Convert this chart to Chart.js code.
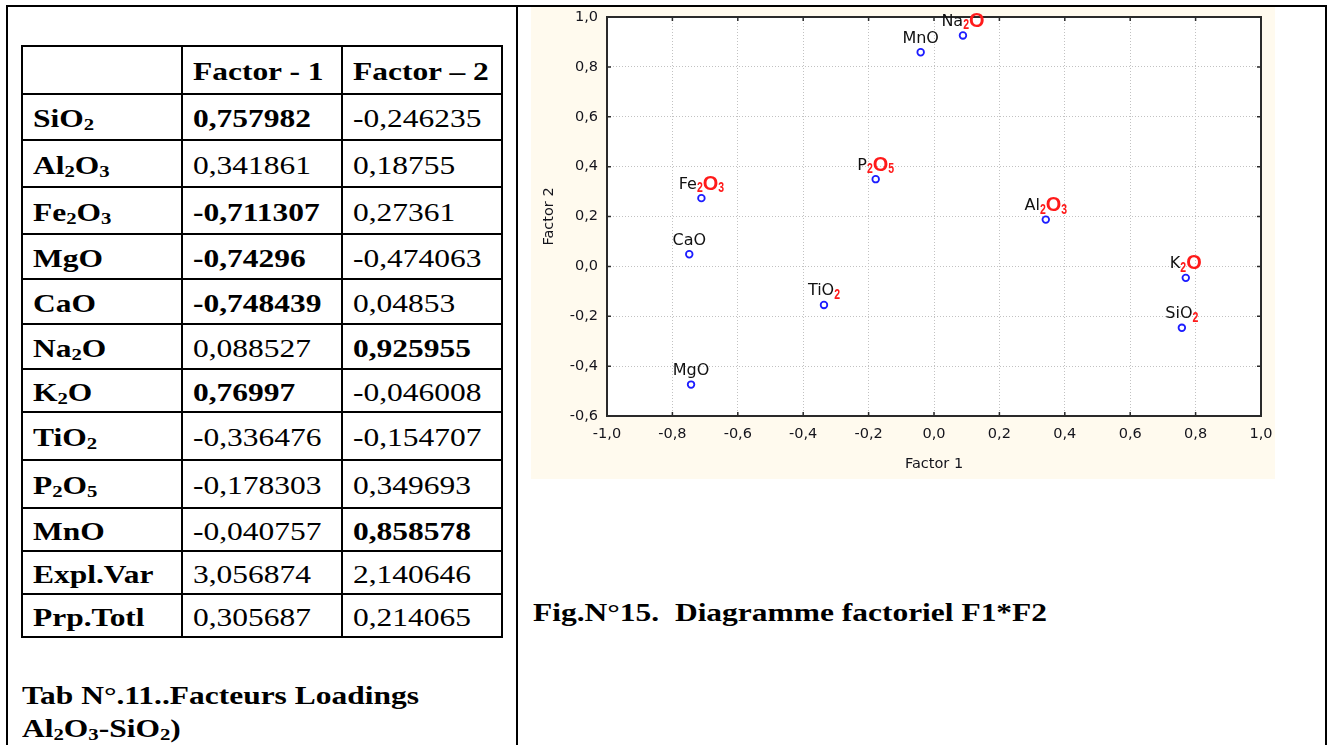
<!DOCTYPE html>
<html>
<head>
<meta charset="utf-8">
<title>Facteurs Loadings – Diagramme factoriel F1*F2</title>
<script src="https://cdn.jsdelivr.net/npm/chart.js@4.4.1/dist/chart.umd.min.js"></script>
<style>
  html, body { margin: 0; padding: 0; background: #fff; }
  body { position: relative; width: 1331px; height: 745px; overflow: hidden;
         font-family: "Liberation Serif", "Times New Roman", serif; color: #000; }
  .rule { position: absolute; background: #000; }
  .cell { position: absolute; display: flex; align-items: center; box-sizing: border-box;
          padding: 4px 0 0 10px; font-size: 26px; white-space: nowrap; }
  .txt { display: inline-block; transform: scaleX(1.21); transform-origin: 0 50%; }
  .b { font-weight: bold; }
  sub { font-size: 0.66em; vertical-align: -0.16em; line-height: 0; }
  .caption { position: absolute; font-size: 26px; font-weight: bold; line-height: 30px; white-space: pre; }
  #plot { position: absolute; left: 531px; top: 7px; }
</style>
</head>
<body>
<div id="page"></div>
<canvas id="plot" width="744" height="472"></canvas>

<script>
// ---- Loadings of the first two factors ----
const oxides   = ['SiO2', 'Al2O3', 'Fe2O3', 'MgO', 'CaO', 'Na2O', 'K2O', 'TiO2', 'P2O5', 'MnO'];
const factor1  = [0.757982, 0.341861, -0.711307, -0.74296, -0.748439, 0.088527, 0.76997, -0.336476, -0.178303, -0.040757];
const factor2  = [-0.246235, 0.18755, 0.27361, -0.474063, 0.04853, 0.925955, -0.046008, -0.154707, 0.349693, 0.858578];
const varianceRows = ['Expl.Var', 'Prp.Totl'];
const varianceF1   = [3.056874, 0.305687];
const varianceF2   = [2.140646, 0.214065];
const factorHeaders = ['Factor - 1', 'Factor \u2013 2'];

// position in each point label where the red part of the formula starts (-1: none)
const redFrom = [3, 2, 2, -1, -1, 2, 1, 3, 1, -1];

const xTicks = [-1.0, -0.8, -0.6, -0.4, -0.2, 0.0, 0.2, 0.4, 0.6, 0.8, 1.0];
const yTicks = [-0.6, -0.4, -0.2, 0.0, 0.2, 0.4, 0.6, 0.8, 1.0];

// ---- helpers ----
const comma = v => String(v).replace('.', ',');
const formula = s => s.replace(/(\d+)/g, '<sub>$1</sub>');

// ---- page frame and table ----
const page = document.getElementById('page');
function rule(x, y, w, h) {
  const d = document.createElement('div');
  d.className = 'rule';
  Object.assign(d.style, { left: x + 'px', top: y + 'px', width: w + 'px', height: h + 'px' });
  page.appendChild(d);
}
rule(6, 5, 1321, 2);      // top edge
rule(6, 5, 2, 740);       // left edge
rule(516, 5, 2, 740);     // divider
rule(1325, 5, 2, 740);    // right edge

const colLines = [21, 181, 341, 501];
const rowLines = [45, 93, 139, 186, 233, 278, 323, 368, 411, 459, 507, 550, 593, 636];

const rows = [['', factorHeaders[0], factorHeaders[1], true, true, true]];
oxides.forEach((o, i) => rows.push([formula(o), comma(factor1[i]), comma(factor2[i]),
  true, Math.abs(factor1[i]) > 0.7, Math.abs(factor2[i]) > 0.7]));
varianceRows.forEach((r, i) => rows.push([r, comma(varianceF1[i]), comma(varianceF2[i]), true, false, false]));

rows.forEach((r, ri) => {
  for (let c = 0; c < 3; c++) {
    const d = document.createElement('div');
    d.className = 'cell' + (r[3 + c] ? ' b' : '');
    Object.assign(d.style, {
      left: (colLines[c] + 2) + 'px', top: (rowLines[ri] + 2) + 'px',
      width: (colLines[c + 1] - colLines[c] - 2) + 'px',
      height: (rowLines[ri + 1] - rowLines[ri] - 2) + 'px'
    });
    d.innerHTML = '<span class="txt">' + r[c] + '</span>';
    page.appendChild(d);
  }
});
rowLines.forEach(y => rule(colLines[0], y, colLines[3] - colLines[0] + 2, 2));
colLines.forEach(x => rule(x, rowLines[0], 2, rowLines[rowLines.length - 1] - rowLines[0] + 2));

function caption(html, x, y) {
  const d = document.createElement('div');
  d.className = 'caption';
  d.style.left = x + 'px'; d.style.top = y + 'px';
  d.innerHTML = '<span class="txt">' + html + '</span>';
  page.appendChild(d);
}
caption('Tab N°.11..Facteurs Loadings', 22, 681);
caption(formula('Al2O3') + '-' + formula('SiO2') + ')', 22, 714);
caption('Fig.N°15.  Diagramme factoriel F1*F2', 533, 598);

// ---- scatter plot ----
const CREAM = '#fffaee';
const FRAME = '#2a2a2a';
const TEXT = '#14141c';

const backdrop = {
  id: 'backdrop',
  beforeDraw(chart) {
    const { ctx, width, height, chartArea: a } = chart;
    ctx.save();
    ctx.fillStyle = CREAM;
    ctx.fillRect(0, 0, width, height);
    ctx.fillStyle = '#ffffff';
    ctx.fillRect(a.left, a.top, a.right - a.left, a.bottom - a.top);
    ctx.restore();
  }
};

// axis box with short inward ticks on all four sides
const axisBox = {
  id: 'axisBox',
  afterDraw(chart) {
    const { ctx, chartArea: a, scales } = chart;
    ctx.save();
    ctx.strokeStyle = FRAME;
    ctx.lineWidth = 2;
    ctx.strokeRect(a.left, a.top, a.right - a.left, a.bottom - a.top);
    ctx.lineWidth = 1.5;
    ctx.beginPath();
    const t = 4;
    xTicks.forEach(v => {
      const x = scales.x.getPixelForValue(v);
      ctx.moveTo(x, a.bottom); ctx.lineTo(x, a.bottom - t);
      ctx.moveTo(x, a.top); ctx.lineTo(x, a.top + t);
    });
    yTicks.forEach(v => {
      const y = scales.y.getPixelForValue(v);
      ctx.moveTo(a.left, y); ctx.lineTo(a.left + t, y);
      ctx.moveTo(a.right, y); ctx.lineTo(a.right - t, y);
    });
    ctx.stroke();
    ctx.restore();
  }
};

// chemical formula labels: black element symbols, red indices and oxygen
const oxideLabels = {
  id: 'oxideLabels',
  afterDraw(chart) {
    const ctx = chart.ctx;
    const pts = chart.getDatasetMeta(0).data;
    pts.forEach((p, i) => {
      const name = oxides[i];
      const cut = redFrom[i] < 0 ? name.length : redFrom[i];
      const segs = [{ t: name.slice(0, cut), font: '16px "DejaVu Sans"', color: '#111', sx: 1, dy: 0 }];
      for (const ch of name.slice(cut)) {
        if (/\d/.test(ch)) segs.push({ t: ch, font: 'bold 14px "Liberation Sans"', color: '#ff1a1a', sx: 0.75, dy: 3.5 });
        else segs.push({ t: ch, font: 'bold 21px "Liberation Sans"', color: '#ff1a1a', sx: 0.95, dy: 1 });
      }
      let w = 0;
      segs.forEach(s => { ctx.font = s.font; s.w = ctx.measureText(s.t).width * s.sx; w += s.w; });
      let x = p.x - w / 2;
      const base = p.y - 9.5;
      segs.forEach(s => {
        ctx.save();
        ctx.translate(x, base + s.dy);
        ctx.scale(s.sx, 1);
        ctx.font = s.font;
        ctx.fillStyle = s.color;
        ctx.textAlign = 'left';
        ctx.textBaseline = 'alphabetic';
        ctx.fillText(s.t, 0, 0);
        ctx.restore();
        x += s.w;
      });
    });
  }
};

const tickLabel = v => (Math.abs(v) < 1e-9 ? 0 : v).toFixed(1).replace('.', ',');
const axisFont = { family: '"DejaVu Sans"', size: 14.5 };

new Chart(document.getElementById('plot'), {
  type: 'scatter',
  data: {
    datasets: [{
      data: oxides.map((o, i) => ({ x: factor1[i], y: factor2[i] })),
      pointStyle: 'circle',
      pointRadius: 3.3,
      pointHoverRadius: 3.3,
      pointBorderWidth: 1.8,
      pointBorderColor: '#1c1cff',
      pointBackgroundColor: 'rgba(255,255,255,0)'
    }]
  },
  options: {
    responsive: false,
    animation: false,
    devicePixelRatio: 1,
    events: [],
    layout: { padding: { top: 10, right: 14, left: 0, bottom: 0 } },
    plugins: { legend: { display: false }, tooltip: { enabled: false } },
    scales: {
      x: {
        type: 'linear', min: -1, max: 1,
        afterBuildTicks: s => { s.ticks = xTicks.map(v => ({ value: v })); },
        afterFit: s => { s.height = 63; s.paddingLeft = 0; s.paddingRight = 0; },
        ticks: { callback: tickLabel, font: axisFont, color: TEXT, padding: 10, maxRotation: 0, autoSkip: false },
        grid: { color: '#c2c2c2', lineWidth: 1, drawTicks: false },
        border: { display: false, dash: [1, 2] },
        title: { display: true, text: 'Factor 1', font: axisFont, color: TEXT, padding: { top: 4, bottom: 6 } }
      },
      y: {
        type: 'linear', min: -0.6, max: 1.0,
        afterBuildTicks: s => { s.ticks = yTicks.map(v => ({ value: v })); },
        afterFit: s => { s.width = 76; s.paddingTop = 0; s.paddingBottom = 0; },
        ticks: { callback: tickLabel, font: axisFont, color: TEXT, padding: 9, autoSkip: false },
        grid: { color: '#c2c2c2', lineWidth: 1, drawTicks: false },
        border: { display: false, dash: [1, 2] },
        title: { display: true, text: 'Factor 2', font: axisFont, color: TEXT, padding: { top: 10, bottom: 4 } }
      }
    }
  },
  plugins: [backdrop, axisBox, oxideLabels]
});
</script>
</body>
</html>
